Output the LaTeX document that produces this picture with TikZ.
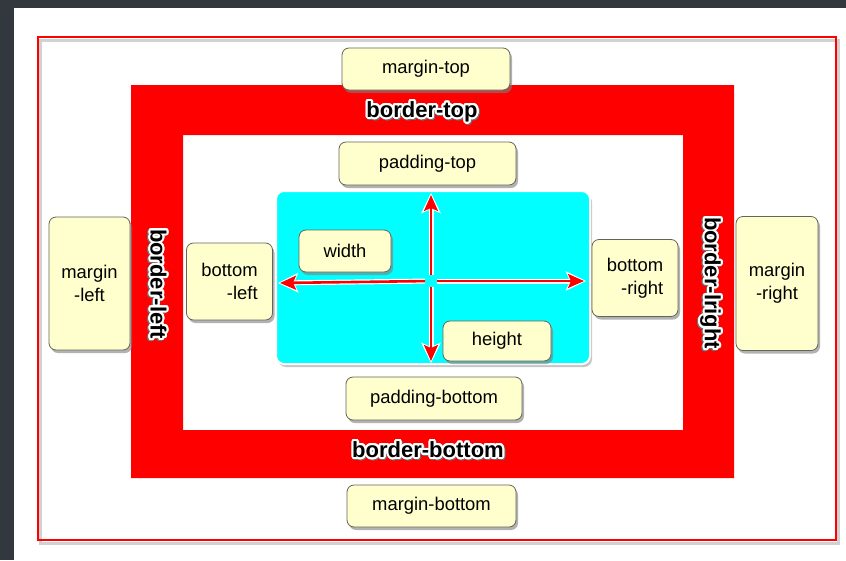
\documentclass[tikz,border=0pt]{standalone}
\usepackage{fontspec}
\setmainfont{Liberation Sans}
\usepackage[copies]{contour}
\contourlength{2pt}
\contournumber{24}
\usetikzlibrary{shadows, arrows.meta}

\definecolor{cream}{RGB}{255,255,206}
\definecolor{darkbg}{RGB}{51,55,62}
\definecolor{boxline}{RGB}{100,100,90}
\definecolor{boxcyan}{RGB}{0,255,255}

% white halo (with a soft dark edge) behind bold side labels
\newcommand{\halotext}[1]{\rlap{\raisebox{-1.2pt}{\kern1pt\contour{black!55}{#1}}}\contour{white}{#1}}

\tikzset{
  note/.style={draw=boxline, fill=cream, rounded corners=7pt, line width=0.8pt,
    drop shadow={shadow xshift=2pt, shadow yshift=-3pt, opacity=0.6},
    font=\fontsize{18.4}{23}\selectfont, inner sep=0pt},
  sidetext/.style={font=\fontsize{22}{24}\selectfont\bfseries, inner sep=0pt},
  sizearrow/.style={red, line width=2.6pt, shorten <=6pt, shorten >=2pt,
    -{Stealth[length=16pt, width=14pt, inset=3pt]},
    preaction={draw=white, line width=5pt, shorten >=0pt,
      -{Stealth[length=20pt, width=19pt, inset=4pt]}}}
}

\begin{document}
\begin{tikzpicture}[x=1pt, y=-1pt]
  \useasboundingbox (0,0) rectangle (846,560);
  \fill[darkbg] (0,0) rectangle (846,560);
  \fill[white] (14,8) rectangle (846,560);

  % margin edge
  \draw[black!18, line width=3pt] (40.5,40) rectangle (838.5,543);
  \draw[red, line width=2.8pt] (38,37) rectangle (836,540);

  % border frame
  \fill[red, even odd rule] (131,85) rectangle (734,478) (183,135) rectangle (683,430);
  \node[sidetext](btop) at (422,113) {\halotext{border-top}};
  \node[sidetext](bbottom) at (428,451) {\halotext{border-bottom}};
  \node[sidetext, rotate=-90](bleftlab) at (157,284) {\halotext{border-left}};
  \node[sidetext, rotate=-90](brightlab) at (709,283) {\halotext{border-lright}};

  % content box
  \node[fill=boxcyan, draw=white, line width=2pt, rounded corners=8pt,
    minimum width=314pt, minimum height=173pt,
    drop shadow={shadow xshift=2pt, shadow yshift=-3pt, opacity=0.45}](content) at (433,277.5) {};

  \coordinate (mid) at (431,281);
  \coordinate (tipup) at (431,193);
  \coordinate (tipdown) at (431,363);
  \coordinate (tipleft) at (278,283);
  \coordinate (tipright) at (586,281);
  \draw[sizearrow] (mid) -- (tipup);
  \draw[sizearrow] (mid) -- (tipdown);
  \draw[sizearrow] (mid) -- (tipleft);
  \draw[sizearrow] (mid) -- (tipright);

  % labels
  \node[note, minimum width=168pt, minimum height=42pt](mtop) at (426,69) {margin-top};
  \node[note, minimum width=177pt, minimum height=43pt](ptop) at (427.5,163.5) {padding-top};
  \node[note, minimum width=81pt, minimum height=133pt, align=center](mleft) at (89.5,283.5) {margin\\-left};
  \node[note, minimum width=86pt, minimum height=77pt, align=right](bleft) at (229.5,281.5) {bottom\\-left};
  \node[note, minimum width=92pt, minimum height=42pt](wid) at (345,251) {width};
  \node[note, minimum width=108pt, minimum height=40pt](hei) at (497,341) {height};
  \node[note, minimum width=86pt, minimum height=77pt, align=right](bright) at (635,278) {bottom\\-right};
  \node[note, minimum width=82pt, minimum height=134pt, align=center](mright) at (777,283.5) {margin\\-right};
  \node[note, minimum width=176pt, minimum height=43pt](pbottom) at (434,398.5) {padding-bottom};
  \node[note, minimum width=169pt, minimum height=42pt](mbottom) at (431.5,506) {margin-bottom};
\end{tikzpicture}
\end{document}
